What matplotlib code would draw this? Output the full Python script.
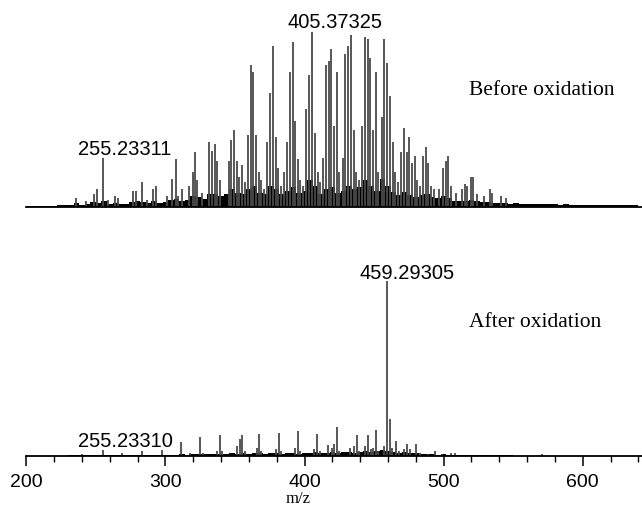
import numpy as np
import matplotlib
matplotlib.use("Agg")
import matplotlib.pyplot as plt
from matplotlib.ticker import MultipleLocator

# spectrum before oxidation: main peaks (m/z, relative intensity)
mz_before = [236, 243, 249, 251, 255.23, 259, 264, 266, 277, 279, 283, 287, 291, 293,
             301, 305, 307.3, 309, 312, 317, 319.5, 321.3, 323, 326, 331.5, 333.3, 335.4,
             337.3, 339, 345.5, 347.3, 349.4, 351.3, 353, 355.2, 357, 359.2, 361.4, 363.2,
             365.4, 367, 369, 371, 373.4, 375.3, 377.3, 379.3, 381, 383, 385.5, 387.4,
             389.4, 391.4, 393.4, 395.4, 397, 399, 401.4, 403.4, 405.37, 407.4, 409.4, 411,
             413.4, 415.4, 417.4, 419.4, 421.4, 423.4, 425, 427.4, 429.4, 431.4, 433.4,
             435.4, 437, 439, 441.4, 443.4, 445.4, 447.4, 449.4, 451.4, 453, 455.4, 457.4,
             459.4, 461.4, 463.4, 465, 467, 469.4, 471.4, 473.4, 475.4, 477, 479.4, 481,
             483, 485.4, 487.4, 489, 491, 493, 497, 499.4, 501.4, 503.4, 505, 509, 513,
             515.4, 517, 519.4, 521.3, 524, 529, 533, 535, 541, 545]
int_before = [0.05, 0.03, 0.07, 0.10, 0.28, 0.04, 0.06, 0.05, 0.09, 0.09, 0.14, 0.04, 0.10, 0.12,
              0.06, 0.16, 0.27, 0.06, 0.10, 0.12, 0.20, 0.31, 0.15, 0.08, 0.37, 0.32, 0.36,
              0.26, 0.15, 0.26, 0.38, 0.44, 0.26, 0.17, 0.24, 0.14, 0.41, 0.81, 0.77,
              0.41, 0.20, 0.15, 0.10, 0.37, 0.65, 0.92, 0.40, 0.22, 0.12, 0.20, 0.37,
              0.77, 0.94, 0.49, 0.27, 0.15, 0.12, 0.56, 0.75, 1.00, 0.42, 0.20, 0.14,
              0.28, 0.81, 0.83, 0.90, 0.46, 0.77, 0.20, 0.28, 0.87, 0.92, 0.98,
              0.44, 0.20, 0.15, 0.46, 0.97, 0.96, 0.85, 0.44, 0.77, 0.20, 0.51, 0.96,
              0.82, 0.63, 0.37, 0.20, 0.14, 0.31, 0.45, 0.31, 0.40, 0.25, 0.29, 0.15,
              0.12, 0.29, 0.34, 0.25, 0.12, 0.10, 0.10, 0.22, 0.26, 0.29, 0.12, 0.08, 0.10,
              0.13, 0.12, 0.17, 0.17, 0.07, 0.06, 0.10, 0.08, 0.06, 0.05]

# dense low-level background, read every 4 m/z from 200 to 640
bg_mz = np.arange(200, 641, 4)
bg_before = [.003, .003, .003, .004, .004, .006, .008, .010, .012, .020,
             .012, .015, .025, .020, .035, .015, .020, .018, .015, .025,
             .030, .025, .020, .030, .020, .025, .040, .045, .030, .040,
             .060, .055, .045, .075, .070, .060, .070, .100, .080, .070,
             .100, .120, .080, .075, .120, .100, .070, .090, .110, .080,
             .090, .150, .120, .070, .100, .110, .080, .090, .120, .100,
             .110, .155, .120, .090, .160, .120, .085, .065, .085, .065,
             .055, .065, .070, .055, .050, .060, .050, .035, .030, .035,
             .040, .030, .025, .028, .022, .020, .022, .018, .020, .016,
             .018, .015, .016, .014, .014, .013, .012, .013, .011, .012,
             .010, .011, .010, .011, .010, .010, .011, .010, .010, .011, .010]

# spectrum after oxidation
mz_after = [240, 255.23, 269, 283, 297.3, 305, 311.5, 318, 325, 327, 337, 339.2, 341,
            351.5, 353.5, 355.4, 357, 365.5, 367.3, 369, 379.5, 381.4, 383, 393.5, 395.4,
            397, 407, 409.3, 411, 417, 419.5, 421.5, 423.5, 425, 433, 435.3, 437.4, 439,
            443.5, 445.8, 447.5, 449, 451.3, 453, 457, 459.29, 461.3, 463, 465.8, 468,
            471.5, 473.8, 476, 479.9, 483, 489, 493.8, 499, 505, 508, 515, 525, 537, 571]
int_after = [0.015, 0.038, 0.02, 0.028, 0.038, 0.01, 0.08, 0.02, 0.108, 0.02, 0.03, 0.12, 0.03,
             0.06, 0.10, 0.12, 0.03, 0.05, 0.126, 0.03, 0.04, 0.135, 0.03, 0.05, 0.147,
             0.03, 0.04, 0.13, 0.03, 0.065, 0.05, 0.07, 0.17, 0.03, 0.05, 0.06, 0.12, 0.03,
             0.06, 0.12, 0.04, 0.05, 0.15, 0.03, 0.06, 1.00, 0.215, 0.05, 0.09, 0.03,
             0.04, 0.07, 0.04, 0.07, 0.02, 0.015, 0.03, 0.015, 0.02, 0.02, 0.01, 0.01, 0.01, 0.015]
bg_after = [.002, .002, .003, .003, .003, .004, .004, .004, .005, .005,
            .006, .005, .006, .006, .007, .006, .006, .007, .006, .007,
            .008, .007, .008, .007, .008, .008, .010, .010, .012, .010,
            .012, .015, .012, .015, .014, .012, .015, .020, .015, .018,
            .015, .020, .018, .015, .020, .018, .015, .020, .018, .015,
            .018, .020, .022, .018, .020, .025, .020, .022, .025, .020,
            .025, .030, .025, .030, .035, .030, .025, .020, .025, .020,
            .018, .015, .012, .012, .010, .012, .010, .008, .008, .008,
            .007, .006, .006, .006, .005, .005, .005, .005, .004, .004,
            .004, .004, .004, .004, .004, .004, .004, .004, .004, .004,
            .003, .003, .003, .003, .003, .003, .003, .003, .003, .003, .003]

W, H = 642, 506
fig = plt.figure(figsize=(W / 100, H / 100), dpi=100)
left = 26.3 / W
xmax = 200 + (W - 26.3) / 1.391

ax1 = fig.add_axes([left, (H - 207.7) / H, 1 - left, 192.5 / H])
ax2 = fig.add_axes([left, (H - 457.3) / H, 1 - left, 192.5 / H])

sans = "Liberation Sans"
serif = "Liberation Serif"

for ax, mz, inten, bg in [(ax1, mz_before, int_before, bg_before),
                          (ax2, mz_after, int_after, bg_after)]:
    ax.vlines(mz, 0, inten, color="#4a4a4a", lw=1.3)
    ax.fill_between(bg_mz, 0, bg, step="mid", color="black", lw=0)
    ax.set_xlim(200, xmax)
    ax.set_ylim(0, 1.1)
    for s in ["top", "right", "left"]:
        ax.spines[s].set_visible(False)
    ax.spines["bottom"].set_linewidth(1.3)
    ax.set_yticks([])
    ax.patch.set_alpha(0)

ax1.set_xticks([])

ax2.xaxis.set_major_locator(MultipleLocator(100))
ax2.xaxis.set_minor_locator(MultipleLocator(20))
ax2.tick_params(axis="x", which="major", direction="out", length=7, width=1.1, pad=5)
ax2.tick_params(axis="x", which="minor", direction="out", length=4.5, width=1.0)
for lab in ax2.get_xticklabels():
    lab.set_fontfamily(sans)
    lab.set_fontsize(14)

ax1.text(271, 0.335, "255.23311", family=sans, fontsize=14.5, ha="center", va="center")
ax1.text(421.8, 1.06, "405.37325", family=sans, fontsize=14.5, ha="center", va="center",
         clip_on=False)
ax1.text(570.7, 0.67, "Before oxidation", family=serif, fontsize=15.5, ha="center", va="center")

ax2.text(473.6, 1.05, "459.29305", family=sans, fontsize=14.5, ha="center", va="center")
ax2.text(271.3, 0.093, "255.23310", family=sans, fontsize=14.5, ha="center", va="center")
ax2.text(565.8, 0.77, "After oxidation", family=serif, fontsize=15.5, ha="center", va="center")

fig.text(298 / W, 1 - 499 / H, "m/z", family=serif, fontsize=12, ha="center", va="center")

fig.savefig("out.png", dpi=100)
